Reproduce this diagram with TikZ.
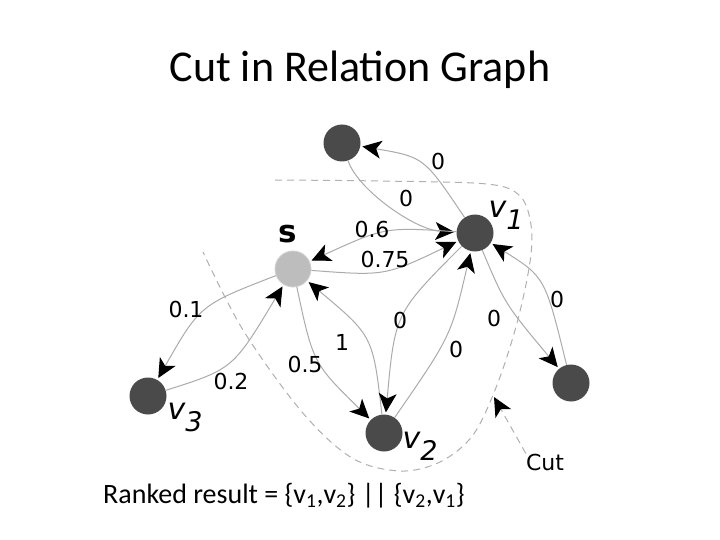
\documentclass[tikz,border=0pt]{standalone}
\usepackage{fontspec}
\setmainfont{Carlito}
\newfontfamily\dv{DejaVu Sans}
\usetikzlibrary{arrows.meta}
\definecolor{edgegray}{HTML}{ABABAB}
\definecolor{nodedark}{HTML}{4A4A4A}
\definecolor{sgray}{HTML}{BDBDBD}
\definecolor{cutgray}{HTML}{B0B0B0}
\begin{document}
\begin{tikzpicture}[x=1pt,y=-1pt,
  vtx/.style={circle,fill=nodedark,minimum size=37pt,inner sep=0pt},
  svtx/.style={circle,fill=sgray,draw=sgray!70!white,line width=0.8pt,minimum size=36pt,inner sep=0pt},
  arrowtip/.style={-{Stealth[length=19pt,width=18pt,inset=5pt,color=black]}},
  rel/.style={draw=edgegray,line width=1pt,arrowtip,shorten >=2pt},
  wlabel/.style={font=\dv\fontsize{22}{22}\selectfont,text=black,inner sep=0pt},
  vlabel/.style={font=\dv\fontsize{30}{30}\selectfont\itshape,inner sep=0pt},
  cutline/.style={draw=cutgray,line width=1pt,dash pattern=on 7pt off 5pt}
]
\fill[white] (0,0) rectangle (720,540);
\useasboundingbox (0,0) rectangle (720,540);

% title and caption
\node[anchor=base,font=\fontsize{44}{44}\selectfont,inner sep=0pt] (title) at (360,82) {Cut in Relation Graph};
\node[anchor=base west,font=\fontsize{28}{28}\selectfont,inner sep=0pt] (result) at (103,503)
  {Ranked result = \{v\textsubscript{1},v\textsubscript{2}\} || \{v\textsubscript{2},v\textsubscript{1}\}};

% cut curve
\draw[cutline] plot[smooth,tension=0.55] coordinates {(275,180) (380,181) (487,184) (520,196) (531,225) (530,262) (517,323) (497,385) (473,435) (440,462) (400,471) (352,458) (302,412) (243,330) (203,252)};

% vertices
\node[vtx] (T) at (342,143) {};
\node[vtx] (v1) at (475,233) {};
\node[svtx] (s) at (293,269) {};
\node[vtx] (v3) at (148,396) {};
\node[vtx] (v2) at (384,433) {};
\node[vtx] (R) at (571,383) {};

% vertex labels
\node[font=\dv\fontsize{31}{31}\selectfont\bfseries,inner sep=0pt] (sl) at (288,234) {s};
\node[vlabel] (v1l) at (506,215) {v\raisebox{-12pt}{\fontsize{27}{27}\selectfont 1}};
\node[vlabel] (v2l) at (420,446) {v\raisebox{-12pt}{\fontsize{27}{27}\selectfont 2}};
\node[vlabel] (v3l) at (185,417) {v\raisebox{-12pt}{\fontsize{27}{27}\selectfont 3}};

% edges
\draw[rel] (v1) .. controls (424,157) .. (T);
\draw[rel] (T) .. controls (358,190) and (415,230) .. (v1);
\draw[rel] (v1) .. controls (385,227) .. (s);
\draw[rel] (s) .. controls (385,276) .. (v1);
\draw[rel] (s) .. controls (200,305) .. (v3);
\draw[rel] (v3) .. controls (233,369) .. (s);
\draw[rel] (s) .. controls (313,363) .. (v2);
\draw[rel] (v2) .. controls (373,336) .. (s);
\draw[rel] (v1) .. controls (395,313) .. (v2);
\draw[rel] (v2) .. controls (451,336) .. (v1);
\draw[rel] (v1) .. controls (505,304) .. (R);
\draw[rel] (R) .. controls (545,277) .. (v1);

% edge labels
\node[wlabel] (l1) at (438,161) {0};
\node[wlabel] (l2) at (406,198) {0};
\node[wlabel] (l3) at (372,229) {0.6};
\node[wlabel] (l4) at (385,259) {0.75};
\node[wlabel] (l5) at (186,309) {0.1};
\node[wlabel] (l6) at (231,381) {0.2};
\node[wlabel] (l7) at (305,364) {0.5};
\node[wlabel] (l8) at (342,342) {1};
\node[wlabel] (l9) at (400,320) {0};
\node[wlabel] (l10) at (456,349) {0};
\node[wlabel] (l11) at (494,318) {0};
\node[wlabel] (l12) at (557,299) {0};

% cut annotation
\node[wlabel] (cutl) at (545,462) {Cut};
\coordinate (cutpt) at (494,397);
\draw[cutline,arrowtip] (cutl.north west) -- (cutpt);
\end{tikzpicture}
\end{document}
